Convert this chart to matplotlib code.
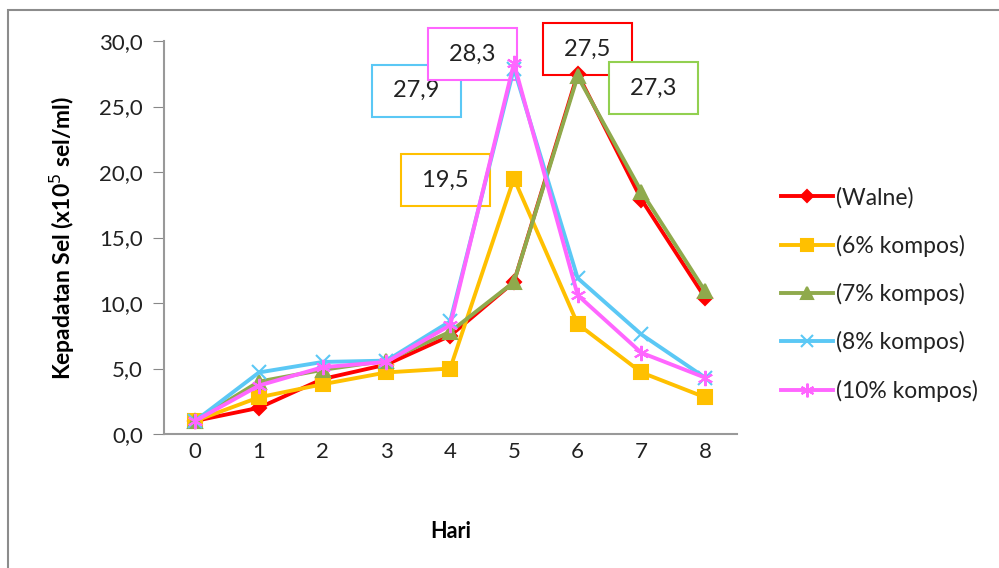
import matplotlib.pyplot as plt
from matplotlib.patches import Rectangle

plt.rcParams['font.family'] = ['Lato', 'DejaVu Sans']

hari = [0, 1, 2, 3, 4, 5, 6, 7, 8]
walne = [1.0, 2.0, 4.2, 5.3, 7.5, 11.6, 27.5, 17.9, 10.4]
kompos6 = [1.0, 2.8, 3.8, 4.7, 5.0, 19.5, 8.4, 4.7, 2.8]
kompos7 = [1.0, 4.0, 4.9, 5.6, 7.8, 11.6, 27.3, 18.5, 10.9]
kompos8 = [1.0, 4.7, 5.5, 5.6, 8.6, 27.9, 11.9, 7.6, 4.3]
kompos10 = [1.0, 3.7, 5.1, 5.5, 8.3, 28.3, 10.6, 6.2, 4.3]

labels = ['(Walne)', '(6% kompos)', '(7% kompos)', '(8% kompos)', '(10% kompos)']
colors = ['#ff0000', '#ffc000', '#8faa4c', '#5bc8f5', '#ff66ff']
markers = ['D', 's', '^', 'x', (6, 2, 0)]
msizes = [7, 10, 10, 10, 11]
series = [walne, kompos6, kompos7, kompos8, kompos10]

fig = plt.figure(figsize=(9.99, 5.68), dpi=100)
fig.patches.append(Rectangle((8/999, -0.05), 1.2, 1 - 10/568 + 0.05, transform=fig.transFigure,
                             fill=False, edgecolor='#8c8c8c', linewidth=1.5))
ax = fig.add_axes([164/999, 1 - 434/568, (737 - 164)/999, (434 - 41)/568])

for ys, lab, c, m, ms in zip(series, labels, colors, markers, msizes):
    ax.plot(hari, ys, color=c, marker=m, markersize=ms, linewidth=2.8, label=lab,
            markeredgewidth=1.5, markeredgecolor=c)

ax.set_xlim(-0.49, 8.5)
ax.set_ylim(0, 30)
ax.set_yticks([0, 5, 10, 15, 20, 25, 30])
ax.set_yticklabels(['0,0', '5,0', '10,0', '15,0', '20,0', '25,0', '30,0'])
ax.set_xticks(hari)
ax.tick_params(axis='y', length=8, color='#888888', labelsize=16, labelcolor='#222222', pad=7)
ax.tick_params(axis='x', length=0, labelsize=16, labelcolor='#222222', pad=6)
for s in ['top', 'right']:
    ax.spines[s].set_visible(False)
for s in ['left', 'bottom']:
    ax.spines[s].set_color('#999999')
    ax.spines[s].set_linewidth(1.5)

ax.set_xlabel('Hari', fontsize=15.5, fontweight='bold', labelpad=42)
ax.set_ylabel('Kepadatan Sel (x10$^{5}$ sel/ml)', fontsize=16.5, fontweight='bold', labelpad=16)

# kotak nilai puncak
boxes = [('27,9', 3.47, 26.2, colors[3]),
         ('28,3', 4.35, 29.0, colors[4]),
         ('27,5', 6.15, 29.4, colors[0]),
         ('27,3', 7.19, 26.4, '#92d050'),
         ('19,5', 3.93, 19.4, colors[1])]
for t, x, y, c in boxes:
    ax.text(x, y, ' ' + t + ' ', ha='center', va='center', fontsize=17, color='#222222',
            bbox=dict(boxstyle='square,pad=0.65', facecolor='white', edgecolor=c, linewidth=1.5),
            zorder=1)

fig.legend(loc='upper left', bbox_to_anchor=(760/999, 1 - 166/568), frameon=False,
           fontsize=16.5, handlelength=2.3, labelspacing=1.15, handletextpad=0.1,
           labelcolor='#222222', markerscale=0.9)

fig.savefig('out.png', dpi=100)
